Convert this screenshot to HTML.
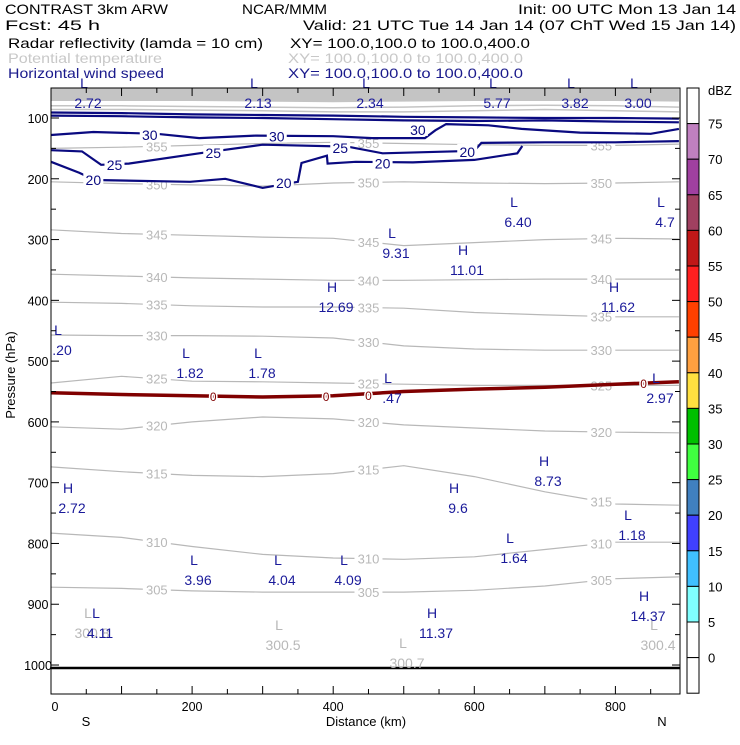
<!DOCTYPE html>
<html><head><meta charset="utf-8"><style>
body{margin:0;background:#fff;width:740px;height:740px;overflow:hidden}
svg{font-family:"Liberation Sans",sans-serif}
</style></head><body>
<svg id="chart" width="740" height="740" viewBox="0 0 740 740" xmlns="http://www.w3.org/2000/svg">
<g font-size="14" fill="#000">
<text x="5" y="14" textLength="163" lengthAdjust="spacingAndGlyphs">CONTRAST  3km ARW</text>
<text x="242" y="14" textLength="85" lengthAdjust="spacingAndGlyphs">NCAR/MMM</text>
<text x="518" y="14" textLength="218" lengthAdjust="spacingAndGlyphs">Init: 00 UTC Mon 13 Jan 14</text>
<text x="5" y="30" textLength="95" lengthAdjust="spacingAndGlyphs">Fcst:   45 h</text>
<text x="303" y="30" textLength="433" lengthAdjust="spacingAndGlyphs">Valid: 21 UTC Tue 14 Jan 14 (07 ChT Wed 15 Jan 14)</text>
<text x="8" y="48" textLength="255" lengthAdjust="spacingAndGlyphs">Radar reflectivity (lamda = 10 cm)</text>
<text x="290" y="48" textLength="240" lengthAdjust="spacingAndGlyphs">XY= 100.0,100.0 to 100.0,400.0</text>
<text x="8" y="63" fill="#c8c8c8" textLength="154" lengthAdjust="spacingAndGlyphs">Potential temperature</text>
<text x="288" y="63" fill="#c8c8c8" textLength="235" lengthAdjust="spacingAndGlyphs">XY= 100.0,100.0 to 100.0,400.0</text>
<text x="8" y="78" fill="#1a1a8c" textLength="156" lengthAdjust="spacingAndGlyphs">Horizontal wind speed</text>
<text x="288" y="78" fill="#1a1a8c" textLength="235" lengthAdjust="spacingAndGlyphs">XY= 100.0,100.0 to 100.0,400.0</text>
</g>
<g id="plot"></g>
<g id="cbar"></g>
</svg>
<script>
const kmGrid=[0,100,200,300,400,500,600,700,800,890];
const thetaLevels=[355,350,345,340,335,330,325,320,315,310,305];
const theta355=[150,148,145,142,140,142,144,145,145,143];
const theta350=[205,208,210,212,207,205,207,208,207,205];
const theta345=[284,290,293,296,298,310,305,300,298,299];
const theta340=[357,360,363,365,367,367,366,365,365,365];
const theta335=[403,405,409,411,411,413,420,424,427,427];
const theta330=[457,458,458,459,462,475,480,482,482,482];
const theta325=[536,525,533,534,536,538,540,540,540,540];
const theta320=[608,612,600,592,595,605,610,615,617,618];
const theta315=[674,682,688,690,685,672,690,715,735,737];
const theta310=[783,790,805,818,824,826,822,810,798,798];
const theta305=[872,874,878,880,880,880,877,870,858,855];
const thetaUpperA=[86,86,87,88,90,90,88,86,88,90];
const thetaUpperC=[80,80,81,82,83,82,80,79,80,82];
const thetaUpperB=[72,72,72,73,74,73,72,72,72,73];
const freezeP=[552,555,557,559,557,550,546,543,538,534];
const wind40=[91,92,94,95,96,98,99,100,100,101];
const wind35=[96,97,99,100,102,104,105,104,106,107];
const wind30km=[0,60,150,210,290,400,455,530,545,560,620,667,750,850,890];
const wind30p=[128,123,126,133,129,130,133,133,120,110,112,118,124,126,118];
const wind25km=[0,44,71,110,210,300,420,470,600,610,700,800,890];
const wind25p=[153,155,177,175,158,144,147,158,154,141,140,140,138];
const wind20km=[0,40,62,197,247,300,350,355,391,392,432,513,600,661,668];
const wind20p=[172,190,202,205,200,215,205,174,162,175,172,173,169,158,146];
const cbarLabels=["75","70","65","60","55","50","45","40","35","30","25","20","15","10","5","0"];
const cbarColors=["#ffffff","#c080c0","#a040a0","#a04060","#c01818","#ff2020","#ff4000","#ffa040","#ffe040","#00c000","#40ff40","#4080c0","#4040ff","#40c0ff","#80ffff","#ffffff","#ffffff"];
const pressTicks=[100,200,300,400,500,600,700,800,900,1000];
const distTicks=[0,200,400,600,800];

const X0=51,X1=680,Y0=88,Y1=694;
function xs(km){return 51+km*0.7055;}
function ys(p){return 118+(p-100)*0.6078;}
const NS="http://www.w3.org/2000/svg";
const plot=document.getElementById('plot');
function mk(tag,attrs,parent){const e=document.createElementNS(NS,tag);for(const k in attrs)e.setAttribute(k,attrs[k]);(parent||plot).appendChild(e);return e;}
function pathOf(kms,ps){return kms.map((k,i)=>(i?'L':'M')+xs(k).toFixed(1)+','+ys(ps[i]).toFixed(1)).join('');}

let band=mk('path',{d:pathOf(kmGrid,thetaUpperB)+'L'+xs(890)+','+Y0+'L'+xs(0)+','+Y0+'Z',fill:'#c4c4c4'});


const thetaArrays=[theta355,theta350,theta345,theta340,theta335,theta330,theta325,theta320,theta315,theta310,theta305];
[thetaUpperA,thetaUpperC].forEach(a=>{let l=mk('path',{d:pathOf(kmGrid,a),fill:'none',stroke:'#c4c4c4','stroke-width':1.5});

});
thetaArrays.forEach((a,i)=>{
 let l=mk('path',{d:pathOf(kmGrid,a),fill:'none',stroke:'#b8b8b8','stroke-width':1.2});
 
 
 [1.5,4.5,7.8].forEach(f=>{
  const j=Math.floor(f),t=f-j;const km=kmGrid[j]+(kmGrid[j+1]-kmGrid[j])*t;const p=a[j]+(a[j+1]-a[j])*t;
  let bg=mk('rect',{x:xs(km)-14,y:ys(p)-7,width:28,height:13,fill:'#fff'});
  
  
  let tx=mk('text',{x:xs(km),y:ys(p)+5,'text-anchor':'middle','font-size':13,fill:'#b8b8b8'});
  
  
  tx.textContent=thetaLevels[i];
 });
});
[[kmGrid,wind40,'40'],[kmGrid,wind35,'35'],[wind30km,wind30p,'30'],[wind25km,wind25p,'25'],[wind20km,wind20p,'20']].forEach(w=>{
 let l=mk('path',{d:pathOf(w[0],w[1]),fill:'none',stroke:'#0a0a80','stroke-width':2.2});
 
 
});
const windLabels=[[140,'30',126],[320,'30',129],[520,'30',118],[90,'25',176],[230,'25',156],[410,'25',148],[590,'20',154],[60,'20',200],[330,'20',205],[470,'20',173]];
windLabels.forEach(w=>{
 let bg=mk('rect',{x:xs(w[0])-10,y:ys(w[2])-7,width:20,height:14,fill:'#fff'});
 
 
 let t=mk('text',{x:xs(w[0]),y:ys(w[2])+6,'text-anchor':'middle','font-size':14,fill:'#0a0a80'});
 
 
 t.textContent=w[1];
});
let fz=mk('path',{d:pathOf(kmGrid,freezeP),fill:'none',stroke:'#800000','stroke-width':3.5});


[[230,557],[390,557],[450,556],[840,536]].forEach(f=>{
 let t=mk('text',{x:xs(f[0]),y:ys(f[1])+5,'text-anchor':'middle','font-size':12,fill:'#800000',stroke:'#fff','stroke-width':3,'paint-order':'stroke'});
 
 
 t.textContent='0';
});
let gl=mk('line',{x1:X0,x2:X1,y1:668,y2:668,stroke:'#000','stroke-width':2.5});



const hl=[[88,103,'L','2.72'],[258,103,'L','2.13'],[370,103,'L','2.34'],[497,103,'L','5.77'],[575,103,'L','3.82'],[638,103,'L','3.00'],
[518,222,'L','6.40'],[665,222,'L','4.7'],[396,253,'L','9.31'],[467,270,'H','11.01'],[336,307,'H','12.69'],[618,307,'H','11.62'],
[62,350,'L','.20'],[190,373,'L','1.82'],[262,373,'L','1.78'],[392,398,'L','.47'],[660,398,'L','2.97'],
[548,481,'H','8.73'],[72,508,'H','2.72'],[458,508,'H','9.6'],[632,535,'L','1.18'],[514,558,'L','1.64'],
[198,580,'L','3.96'],[282,580,'L','4.04'],[348,580,'L','4.09'],[436,633,'H','11.37'],[648,616,'H','14.37'],[100,633,'L','4.11']];
const hlGray=[[92,633,'L','300.8'],[283,645,'L','300.5'],[407,663,'L','300.7'],[658,645,'L','300.4']];
function drawHL(arr,col,nm){arr.forEach(h=>{
 let a=mk('text',{x:h[0]-4,y:h[1]-15,'text-anchor':'middle','font-size':14,fill:col});
 
 
 a.textContent=h[2];
 let b=mk('text',{x:h[0],y:h[1]+5,'text-anchor':'middle','font-size':14,fill:col});
 
 
 b.textContent=h[3];
});}
drawHL(hlGray,'#b8b8b8','theta-extremum');
drawHL(hl,'#1a1a9a','wind-extremum');

let fr=mk('rect',{x:X0,y:Y0,width:X1-X0,height:Y1-Y0,fill:'none',stroke:'#000','stroke-width':1});


for(let p=100;p<=1000;p+=50){const y=ys(p);const L=p%100?5:8;
 let t1=mk('line',{x1:X0,x2:X0+L,y1:y,y2:y,stroke:'#000'});
 let t2=mk('line',{x1:X1,x2:X1-L,y1:y,y2:y,stroke:'#000'});}
pressTicks.forEach(p=>{let t=mk('text',{x:38,y:ys(p)+5,'text-anchor':'middle','font-size':12.5,fill:'#000'});
 t.textContent=p;});
for(let k=0;k<=890;k+=50){const x=xs(k);const L=k%100?5:8;
 let t1=mk('line',{x1:x,x2:x,y1:Y1,y2:Y1-L,stroke:'#000'});
 let t2=mk('line',{x1:x,x2:x,y1:Y0,y2:Y0+L,stroke:'#000'});}
distTicks.forEach(k=>{let t=mk('text',{x:xs(k)+(k?0:4),y:711,'text-anchor':'middle','font-size':12.5,fill:'#000'});
 t.textContent=k;});
let xt=mk('text',{x:366,y:726,'text-anchor':'middle','font-size':13,fill:'#000'});
xt.textContent='Distance (km)';
let sL=mk('text',{x:86,y:726,'text-anchor':'middle','font-size':13,fill:'#000'});
sL.textContent='S';
let nL=mk('text',{x:662,y:726,'text-anchor':'middle','font-size':13,fill:'#000'});
nL.textContent='N';
let yt=mk('text',{x:0,y:0,'text-anchor':'middle','font-size':13,fill:'#000',transform:'translate(15,375) rotate(-90)'});
yt.textContent='Pressure (hPa)';

const cb=document.getElementById('cbar');
const cy0=88,ch=35.6;
cbarColors.forEach((c,i)=>{let r=mk('rect',{x:687,y:cy0+i*ch,width:12,height:ch,fill:c,stroke:'#000','stroke-width':1},cb);
 });
cbarLabels.forEach((l,i)=>{let t=mk('text',{x:708,y:cy0+(i+1)*ch+5,'font-size':13,fill:'#000'},cb);
 t.textContent=l;});
let du=mk('text',{x:708,y:95,'font-size':13,fill:'#000'},cb);
du.textContent='dBZ';
</script>
</body></html>
